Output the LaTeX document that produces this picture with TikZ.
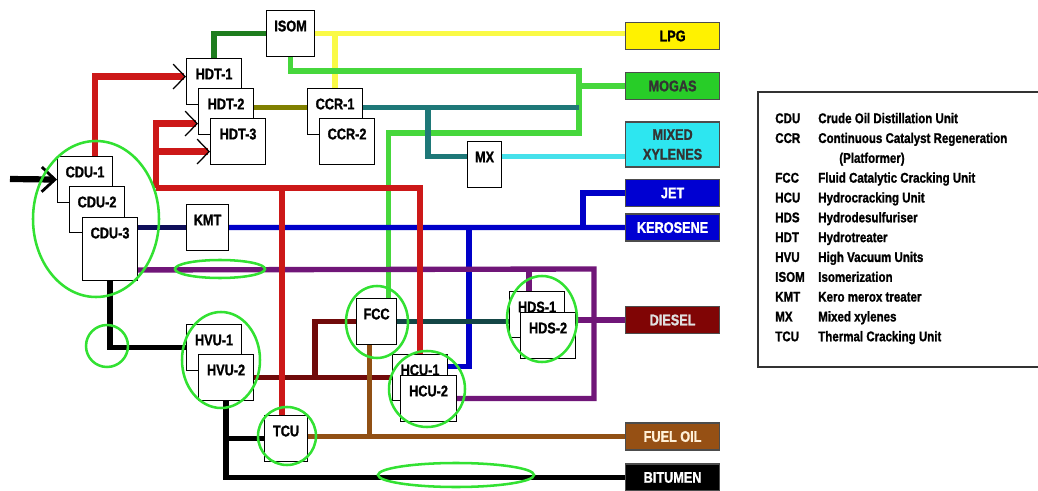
\documentclass[tikz,border=0pt]{standalone}
\usepackage{fontspec}
\setmainfont{Liberation Sans}[FakeStretch=0.82, BoldFeatures={FakeBold=1.2}]
\usepackage{xcolor}
\usetikzlibrary{arrows.meta,calc}

\definecolor{crudered}{RGB}{204,24,24}
\definecolor{isomgreen}{RGB}{30,125,30}
\definecolor{lpgyellow}{RGB}{250,250,70}
\definecolor{mogasgreen}{RGB}{70,215,60}
\definecolor{ccrteal}{RGB}{30,120,120}
\definecolor{hdtolive}{RGB}{128,128,0}
\definecolor{mxcyan}{RGB}{70,225,235}
\definecolor{keroblue}{RGB}{0,0,200}
\definecolor{keronavy}{RGB}{15,15,90}
\definecolor{dieselpurple}{RGB}{112,22,120}
\definecolor{fccslate}{RGB}{20,70,70}
\definecolor{vgomaroon}{RGB}{112,10,10}
\definecolor{fuelbrown}{RGB}{145,80,20}
\definecolor{ringgreen}{RGB}{50,225,50}

\begin{document}
\begin{tikzpicture}[x=0.025cm, y=-0.025cm,
    unit/.style={draw, line width=0.8pt, fill=white, anchor=north west, inner sep=0pt, minimum width=1.375cm, text height=0.52cm, text depth=0.63cm, font=\bfseries\fontsize{11}{12}\selectfont},
    product/.style={draw=black!70, line width=0.8pt, anchor=west, minimum width=2.35cm, minimum height=0.675cm, inner sep=1pt, align=center, text=white, font=\bfseries\fontsize{11}{14}\selectfont},
    pipe/.style={line width=3.8pt},
    feed/.style={-{Straight Barb[length=0.3cm, width=0.62cm, line width=0.9pt 0, color=black]}},
    ring/.style={draw=ringgreen, line width=1.8pt}
]
\useasboundingbox (0,0) rectangle (1038,491);

% process units
\node[unit, minimum width=1.2cm] (isom) at (266,10) {ISOM};
\node[unit] (hdt1) at (186,58) {HDT-1};
\node[unit] (hdt2) at (198,88) {HDT-2};
\node[unit] (hdt3) at (210,118) {HDT-3};
\node[unit] (ccr1) at (307,88) {CCR-1};
\node[unit] (ccr2) at (319,118) {CCR-2};
\node[unit, minimum width=0.85cm] (mx) at (467,141) {MX};
\node[unit] (cdu1) at (57,156) {CDU-1};
\node[unit] (cdu2) at (69,186) {CDU-2};
\node[unit, text depth=1.05cm] (cdu3) at (82,217) {CDU-3};
\node[unit, minimum width=1.05cm] (kmt) at (186,204) {KMT};
\node[unit] (hvu1) at (186,324) {HVU-1};
\node[unit] (hvu2) at (198,354) {HVU-2};
\node[unit, minimum width=1.075cm] (tcu) at (264,415) {TCU};
\node[unit, minimum width=1cm] (fcc) at (356,298) {FCC};
\node[unit] (hcu1) at (392,354) {HCU-1};
\node[unit, minimum width=1.4cm] (hcu2) at (400,375) {HCU-2};
\node[unit] (hds1) at (509,291) {HDS-1};
\node[unit] (hds2) at (520,312) {HDS-2};

% products
\node[product, fill=yellow, text=black] (lpg) at (625,36) {LPG};
\node[product, fill={rgb,255:red,40;green,205;blue,40}, text=black!80] (mogas) at (625,86) {MOGAS};
\node[product, fill={rgb,255:red,45;green,230;blue,240}, text=black!80, minimum height=1.125cm] (mixed) at (625,144.5) {MIXED\\XYLENES};
\node[product, fill={rgb,255:red,0;green,0;blue,210}] (jet) at (625,193) {JET};
\node[product, fill={rgb,255:red,0;green,0;blue,210}] (kero) at (625,227.5) {KEROSENE};
\node[product, fill={rgb,255:red,128;green,5;blue,5}, text=white!88!black] (diesel) at (625,320) {DIESEL};
\node[product, fill={rgb,255:red,150;green,80;blue,20}, text={rgb,255:red,255;green,240;blue,215}] (fuel) at (625,436.5) {FUEL OIL};
\node[product, fill=black] (bitumen) at (625,477.5) {BITUMEN};

% legend
\draw[draw=black!80, line width=1pt] (758,92) rectangle (1050,367);
\node[anchor=north west, inner sep=0pt, font=\bfseries\fontsize{10}{14.1}\selectfont] (key) at (775,109) {%
  \begin{tabular}{@{}p{1.075cm}@{}l@{}}
  CDU & Crude Oil Distillation Unit\\
  CCR & Continuous Catalyst Regeneration\\
      & \hspace{0.525cm}(Platformer)\\
  FCC & Fluid Catalytic Cracking Unit\\
  HCU & Hydrocracking Unit\\
  HDS & Hydrodesulfuriser\\
  HDT & Hydrotreater\\
  HVU & High Vacuum Units\\
  ISOM & Isomerization\\
  KMT & Kero merox treater\\
  MX & Mixed xylenes\\
  TCU & Thermal Cracking Unit
  \end{tabular}};

% junctions
\coordinate (feedin) at (10,179);
\coordinate (redcorner) at (156,188);
\coordinate (hdt1in) at ($(hdt1.west)+(0,-5)$);
\coordinate (hdt2in) at ($(hdt2.west)+(0,12)$);
\coordinate (hdt3in) at ($(hdt3.west)+(0,10)$);
\coordinate (gastop) at (579,71);
\coordinate (gasbend) at (579,133);
\coordinate (fccin) at ($(fcc.north)+(12,0)$);
\coordinate (ccrout) at ($(ccr1.east)+(0,-4)$);
\coordinate (mxtee) at (428,107);
\coordinate (mxin) at ($(mx.west)+(0,-8)$);
\coordinate (mxout) at ($(mx.east)+(0,-8)$);
\coordinate (jettee) at (583,228);
\coordinate (hcutee) at (469,228);
\coordinate (hcuin) at ($(hcu1.east)+(0,-11)$);
\coordinate (dslout) at ($(cdu3.south east)+(0,-11)$);
\coordinate (dslbend) at (594,269);
\coordinate (hdsin) at ($(hds1.north)+(-8,0)$);
\coordinate (fcctee) at (315,378);
\coordinate (fccout) at ($(fcc.south)+(-7,0)$);
\coordinate (tcuin) at ($(tcu.north)+(-4,0)$);

% streams
\draw[pipe, line width=4.4pt, -{Straight Barb[length=0.33cm, width=0.62cm, line width=2pt 0]}] (feedin) -- (cdu1.west);
\draw[pipe, isomgreen] (isom.west) -| (hdt1.north);
\draw[pipe, lpgyellow] (isom.east) -- (isom.east -| lpg.west);
\draw[pipe, lpgyellow] (ccr1.north |- isom.east) -- (ccr1.north);
\draw[pipe, mogasgreen] (isom.south) |- (gastop) -- (gasbend) -| (fccin);
\draw[pipe, mogasgreen] (gastop |- mogas.west) -- (mogas.west);
\draw[pipe, hdtolive] (ccrout -| hdt2.east) -- (ccrout -| ccr1.west);
\draw[pipe, ccrteal] (ccrout) -- (ccrout -| gastop);
\draw[pipe, ccrteal] (mxtee) |- (mxin);
\draw[pipe, mxcyan] (mxout) -- (mxout -| mixed.west);
\draw[pipe, keronavy] (kmt.west -| cdu3.east) -- (kmt.west);
\draw[pipe, keroblue] (kmt.east) -- (kero.west);
\draw[pipe, keroblue] (jettee) |- (jet.west);
\draw[pipe, keroblue] (hcutee) |- (hcuin);
\draw[pipe, dieselpurple] (dslout) -- (dslbend) |- (hcu2.east);
\draw[pipe, dieselpurple] (hdsin |- dslout) -- (hdsin);
\draw[pipe, dieselpurple] (diesel.west) -- (diesel.west -| hds2.east);
\draw[pipe, fccslate] (fcc.east) -- (fcc.east -| hds1.west);
\draw[pipe, vgomaroon] (hvu2.east) -- (hcu1.west);
\draw[pipe, vgomaroon] (fcctee) |- (fcc.west);
\draw[pipe, fuelbrown] (fuel.west) -- (fuel.west -| tcu.east);
\draw[pipe, fuelbrown] (fccout) -- (fccout |- fuel.west);
\draw[pipe] (cdu3.south) |- (hvu1.west);
\draw[pipe] (hvu2.south) |- (bitumen.west);
\draw[pipe] (hvu2.south |- tcu.west) -- (tcu.west);
\draw[pipe, line width=4.4pt, crudered, feed] ($(cdu1.north)+(10,0)$) |- (hdt1in);
\draw[pipe, line width=4.4pt, crudered, feed] (redcorner) |- (hdt2in);
\draw[pipe, line width=4.4pt, crudered, feed] (redcorner |- hdt3in) -- (hdt3in);
\draw[pipe, line width=4.4pt, crudered] (redcorner) -| (hcu1.north);
\draw[pipe, line width=4.4pt, crudered] (redcorner -| tcuin) -- (tcuin);

% highlights
\draw[ring] (96,219) ellipse [x radius=63, y radius=78];
\draw[ring] (107,346) circle [radius=21];
\draw[ring] (220,269) ellipse [x radius=45, y radius=9];
\draw[ring] (221,360) ellipse [x radius=39, y radius=48];
\draw[ring] (287,436) ellipse [x radius=29, y radius=29];
\draw[ring] (377,322) ellipse [x radius=31, y radius=36];
\draw[ring] (427,389) ellipse [x radius=38, y radius=38];
\draw[ring] (542,319) ellipse [x radius=35, y radius=43];
\draw[ring] (456,475) ellipse [x radius=78, y radius=12];
\end{tikzpicture}
\end{document}
